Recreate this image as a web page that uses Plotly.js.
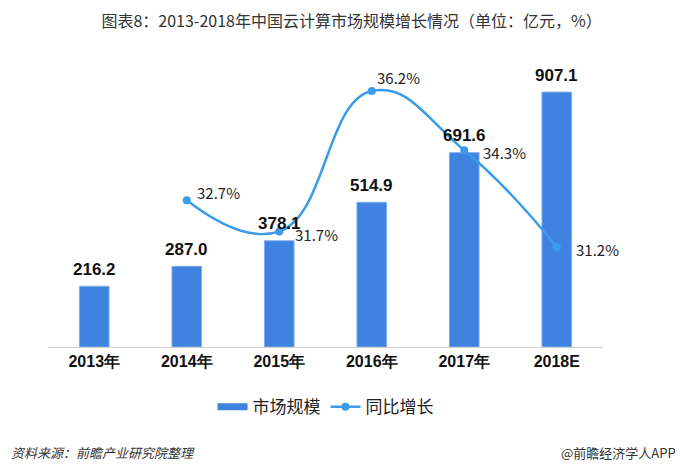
<!DOCTYPE html>
<html>
<head>
<meta charset="utf-8">
<script src="https://cdn.plot.ly/plotly-3.0.1.min.js"></script>
<style>html,body{margin:0;padding:0;background:#fff}#chart{width:680px;height:469px}</style>
</head>
<body>
<div id="chart"></div>
<script>
const categories = ['2013年', '2014年', '2015年', '2016年', '2017年', '2018E'];
const marketSize = [216.2, 287.0, 378.1, 514.9, 691.6, 907.1];
const growthYears = ['2014年', '2015年', '2016年', '2017年', '2018E'];
const growthRate = [32.7, 31.7, 36.2, 34.3, 31.2];

// label offsets (px) for growth labels, relative to each point
const labelDx = [8, 14, 3, 17, 17];
const labelDy = [8, -3, 13, -2, -3];

const fontCJK = '"Noto Sans CJK SC", "Microsoft YaHei", sans-serif';
const barColor = '#3f82e0';
const lineColor = '#3c9be9';

const traces = [
  { // legend swatch for the bars (wide bar-like stroke)
    type: 'scatter', mode: 'lines', name: '市场规模', x: [categories[0]], y: [null],
    line: {color: barColor, width: 7}, hoverinfo: 'skip'
  },
  {
    type: 'bar', name: '市场规模', x: categories, y: marketSize, showlegend: false,
    marker: {color: barColor, line: {color: '#7fb0f0', width: 1}},
    width: 0.32
  },
  {
    type: 'scatter', mode: 'lines+markers', name: '同比增长', x: growthYears, y: growthRate,
    yaxis: 'y2', cliponaxis: false,
    line: {color: lineColor, width: 2.5, shape: 'spline', smoothing: 1.3},
    marker: {color: lineColor, size: 8}
  }
];

const annotations = marketSize.map((v, i) => ({
  x: categories[i], y: v, xref: 'x', yref: 'y', text: v.toFixed(1),
  xanchor: 'center', yanchor: 'middle', yshift: 17, showarrow: false,
  font: {family: 'Arial, "Liberation Sans", sans-serif', size: 17, color: '#111', weight: 'bold'}
})).concat(growthRate.map((v, i) => ({
  x: growthYears[i], y: v, xref: 'x', yref: 'y2', text: v.toFixed(1) + '%',
  xanchor: 'left', yanchor: 'middle', xshift: labelDx[i], yshift: labelDy[i],
  showarrow: false, font: {family: fontCJK, size: 15, color: '#222'}
})));
annotations.push(
  {text: '资料来源：前瞻产业研究院整理', xref: 'paper', yref: 'paper', x: -0.071, y: -0.376, xanchor: 'left', yanchor: 'middle',
    showarrow: false, font: {family: fontCJK, size: 13, color: '#333', style: 'italic'}},
  {text: '@前瞻经济学人APP', xref: 'paper', yref: 'paper', x: 1.135, y: -0.376, xanchor: 'right', yanchor: 'middle',
    showarrow: false, font: {family: fontCJK, size: 13, color: '#333'}}
);

const layout = {
  width: 680, height: 469,
  margin: {l: 48, r: 77, t: 66, b: 122},
  paper_bgcolor: '#fff', plot_bgcolor: '#fff',
  showlegend: true,
  legend: {orientation: 'h', x: 0.5, xanchor: 'center', y: -0.15, yanchor: 'top',
    font: {family: fontCJK, size: 17, color: '#222'}, itemwidth: 30, traceorder: 'normal'},
  title: {text: '图表8：2013-2018年中国云计算市场规模增长情况（单位：亿元，%）',
    font: {family: fontCJK, size: 16, color: '#333'}, x: 0.517, xanchor: 'center', y: 0.955, yanchor: 'middle'},
  xaxis: {type: 'category', range: [-0.5, categories.length - 0.5], autorange: false,
    showgrid: false, zeroline: false, showline: true, linecolor: '#d0d0d0', linewidth: 1,
    ticks: '', tickfont: {family: 'Arial, "Liberation Sans", sans-serif', size: 16, color: '#111', weight: 'bold'},
    fixedrange: true},
  yaxis: {range: [0, 1000], autorange: false, visible: false, showgrid: false, zeroline: false, fixedrange: true},
  yaxis2: {range: [27.995, 37.0], autorange: false, overlaying: 'y', side: 'right', visible: false, showgrid: false, zeroline: false},
  annotations: annotations
};

Plotly.newPlot('chart', traces, layout, {displayModeBar: false, staticPlot: true});
</script>
</body>
</html>
